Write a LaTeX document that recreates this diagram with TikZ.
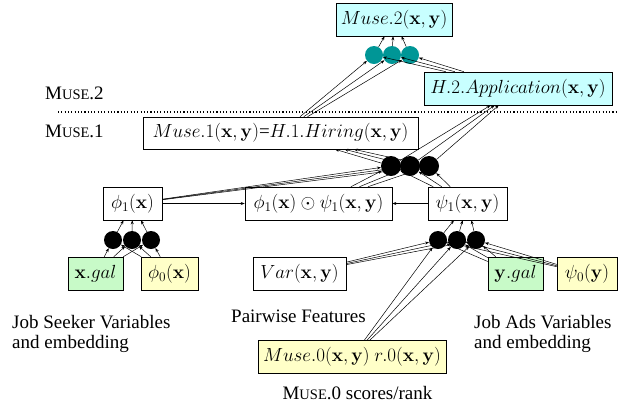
\RequirePackage{fix-cm}
\documentclass[tikz,border=0pt]{standalone}
\usepackage[no-math]{fontspec}
\setmainfont{Liberation Serif}
\usetikzlibrary{arrows.meta}
\newcommand{\mysc}[1]{{\fontsize{14.5bp}{14.5bp}\selectfont #1}}
\definecolor{boxcyan}{RGB}{200,255,255}
\definecolor{boxyellow}{RGB}{255,255,200}
\definecolor{boxgreen}{RGB}{200,250,200}
\definecolor{neuronteal}{RGB}{0,150,150}
\tikzset{
  box/.style={draw, line width=0.6bp, inner sep=0pt, minimum height=33bp,
    font=\fontsize{19bp}{23bp}\selectfont},
  lbl/.style={inner sep=0pt, font=\fontsize{19bp}{20.5bp}\selectfont},
  neuron/.style={circle, fill=black, minimum size=19bp, inner sep=0pt},
  tneuron/.style={neuron, fill=neuronteal, minimum size=18bp},
  arr/.style={-{Stealth[length=4bp,width=3bp]}, line width=0.5bp}
}
\begin{document}
\begin{tikzpicture}[x=1bp,y=-1bp]
\useasboundingbox (0,0) rectangle (619,408);
% boxes
\node[box, fill=boxcyan, minimum width=116bp] (m2) at (394,19.5) {$Muse.2(\mathbf{x},\mathbf{y})$};
\node[box, fill=boxcyan, minimum width=188bp] (h2) at (518,88.5) {$H.2.Application(\mathbf{x},\mathbf{y})$};
\node[box, minimum width=275bp, minimum height=32bp] (m1) at (280.5,133) {$Muse.1(\mathbf{x},\mathbf{y})$=$H.1.Hiring(\mathbf{x},\mathbf{y})$};
\node[box, minimum width=59bp] (phi1) at (132.5,203.5) {$\phi_1(\mathbf{x})$};
\node[box, minimum width=147bp] (pp) at (318.5,203.5) {$\phi_1(\mathbf{x})\odot\psi_1(\mathbf{x},\mathbf{y})$};
\node[box, minimum width=79bp] (psi1) at (467.5,203.5) {$\psi_1(\mathbf{x},\mathbf{y})$};
\node[box, fill=boxgreen, minimum width=55bp] (xgal) at (95.5,273.5) {$\mathbf{x}.gal$};
\node[box, fill=boxyellow, minimum width=57bp] (phi0) at (169.5,273.5) {$\phi_0(\mathbf{x})$};
\node[box, minimum width=93bp] (var) at (299.5,273.5) {$Var(\mathbf{x},\mathbf{y})$};
\node[box, fill=boxgreen, minimum width=55bp] (ygal) at (515.5,273.5) {$\mathbf{y}.gal$};
\node[box, fill=boxyellow, minimum width=60bp] (psi0) at (587,273.5) {$\psi_0(\mathbf{y})$};
\node[box, fill=boxyellow, minimum width=188bp] (m0) at (352,357) {$Muse.0(\mathbf{x},\mathbf{y})$ $r.0(\mathbf{x},\mathbf{y})$};
% labels
\node[lbl, anchor=base west] (lm2) at (45,99) {M\mysc{USE}.2};
\node[lbl, anchor=base west] (lm1) at (45,137) {M\mysc{USE}.1};
\coordinate (dl) at (58,112);
\coordinate (dr) at (616,112);
\draw[line width=1.1bp, dash pattern=on 1.1bp off 2.2bp] (dl) -- (dr);
\node[lbl, anchor=north west, align=left] (js) at (12,315) {Job Seeker Variables\\and embedding};
\node[lbl, anchor=base west] (pw) at (231,322) {Pairwise Features};
\node[lbl, anchor=north west, align=left] (ja) at (474,315) {Job Ads Variables\\and embedding};
\node[lbl, anchor=base] (m0l) at (357.5,399) {M\mysc{USE}.0 scores/rank};
% neurons
\node[tneuron] (t1) at (374,55) {};
\node[tneuron] (t2) at (392,55) {};
\node[tneuron] (t3) at (410,55) {};
\node[neuron, minimum size=20bp] (c1) at (391,166) {};
\node[neuron, minimum size=20bp] (c2) at (410,166) {};
\node[neuron, minimum size=20bp] (c3) at (429,166) {};
\node[neuron, minimum size=18bp] (l1) at (113,240) {};
\node[neuron, minimum size=18bp] (l2) at (132,240) {};
\node[neuron, minimum size=18bp] (l3) at (151,240) {};
\node[neuron, minimum size=18bp] (r1) at (438,240) {};
\node[neuron, minimum size=18bp] (r2) at (457,240) {};
\node[neuron, minimum size=18bp] (r3) at (476,240) {};
% connections
\foreach \i in {1,2,3}{
  \foreach \s in {m1,h2} \draw[arr] (\s) -- (t\i);
  \draw[arr] (t\i) -- (m2);
  \foreach \s in {phi1,pp,psi1} \draw[arr] (\s) -- (c\i);
  \draw[arr] (c\i) -- (m1);
  \draw[arr] (c\i) -- (h2);
  \foreach \s in {xgal,phi0} \draw[arr] (\s) -- (l\i);
  \draw[arr] (l\i) -- (phi1);
  \foreach \s in {var,m0,ygal,psi0} \draw[arr] (\s) -- (r\i);
  \draw[arr] (r\i) -- (psi1);
}
\draw[arr] (phi1) -- (pp);
\draw[arr] (psi1) -- (pp);
\end{tikzpicture}
\end{document}
